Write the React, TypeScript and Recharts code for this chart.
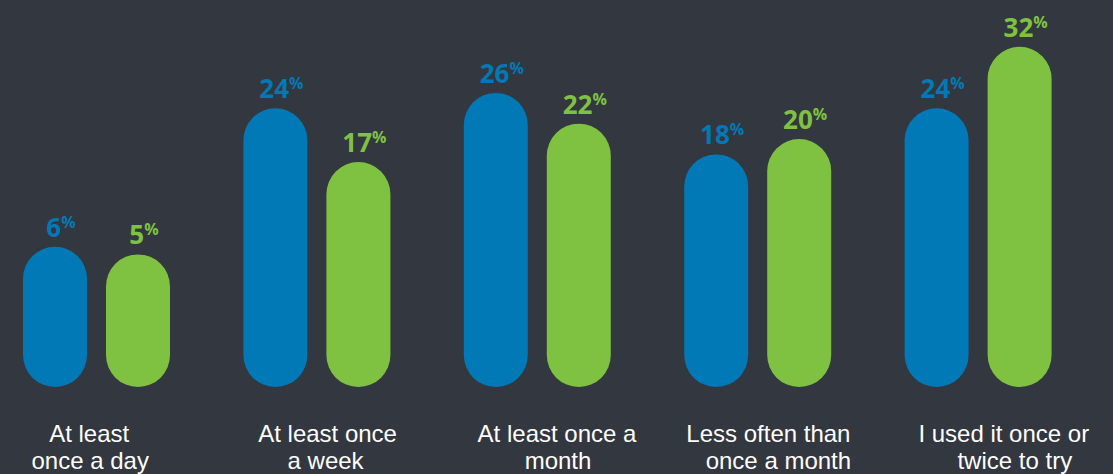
import React from "react";
import { BarChart, Bar, XAxis, YAxis, LabelList } from "recharts";

const categories = [
  ["At least", "once a day"],
  ["At least once", "a week"],
  ["At least once a", "month"],
  ["Less often than", "once a month"],
  ["I used it once or", "twice to try"],
];
const blueValues = [6, 24, 26, 18, 24];
const greenValues = [5, 17, 22, 20, 32];

// pills hang below the zero line, so each bar starts from this floor
const FLOOR = -12.24;
const BLUE = "#0079b6";
const GREEN = "#7fc241";
const BG = "#33373f";
// caption lines sit a little off the group centres in the original
const tickShift = [
  [-7, -6],
  [11, 9],
  [20, 21],
  [11, 21],
  [26, 37],
];

const data = categories.map((c, i) => ({
  name: c.join(" "),
  blue: blueValues[i],
  green: greenValues[i],
}));

function PctLabel({ color }: { color: string }) {
  return (props: any) => {
    const { x, y, width, height, value } = props;
    const top = Math.min(y, y + height);
    return (
      <text
        x={x + width / 2 + 6}
        y={top - 10}
        textAnchor="middle"
        fill={color}
        fontFamily="'Open Sans', sans-serif"
        fontWeight={700}
      >
        <tspan fontSize={26}>{value}</tspan>
        <tspan fontSize={16} dy={-9}>
          %
        </tspan>
      </text>
    );
  };
}

function CategoryTick(props: any) {
  const { x, payload } = props;
  const lines = categories[payload.index];
  const shift = tickShift[payload.index];
  return (
    <text
      textAnchor="middle"
      fill="#ffffff"
      fontFamily="'Liberation Sans', Arial, sans-serif"
      fontSize={24}
    >
      <tspan x={x + shift[0]} y={442}>
        {lines[0]}
      </tspan>
      <tspan x={x + shift[1]} y={469}>
        {lines[1]}
      </tspan>
    </text>
  );
}

export default function App() {
  return (
    <div
      style={{
        position: "absolute",
        top: 0,
        left: 0,
        width: 1113,
        height: 474,
        background: BG,
        overflow: "hidden",
      }}
    >
      <BarChart
        width={1113}
        height={474}
        data={data}
        margin={{ top: 16, right: 25, bottom: 57, left: -14 }}
        barGap={19}
      >
        <XAxis
          dataKey="name"
          axisLine={false}
          tickLine={false}
          tick={<CategoryTick />}
          interval={0}
        />
        <YAxis hide domain={[FLOOR, 36]} allowDataOverflow />
        <Bar
          dataKey={(d: any) => [FLOOR, d.blue]}
          fill={BLUE}
          barSize={64}
          radius={[32, 32, 32, 32]}
          isAnimationActive={false}
        >
          <LabelList dataKey="blue" content={PctLabel({ color: BLUE })} />
        </Bar>
        <Bar
          dataKey={(d: any) => [FLOOR, d.green]}
          fill={GREEN}
          barSize={64}
          radius={[32, 32, 32, 32]}
          isAnimationActive={false}
        >
          <LabelList dataKey="green" content={PctLabel({ color: GREEN })} />
        </Bar>
      </BarChart>
    </div>
  );
}
